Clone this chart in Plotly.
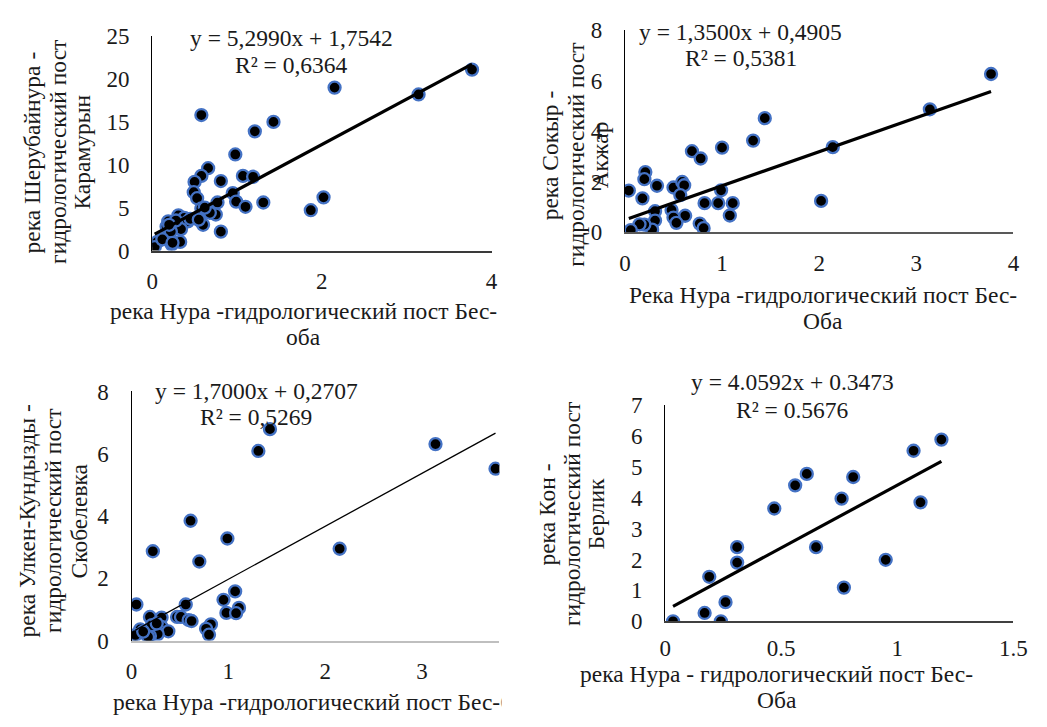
import plotly.graph_objects as go

# ---------------- data ----------------
# Panel A: Нура (Бес-Оба) vs Шерубайнура (Карамурын)
a_x = [3.77, 3.14, 2.15, 0.58, 1.43, 1.21, 0.98, 0.66, 1.07, 1.19, 0.58, 0.81, 0.50,
       0.49, 0.53, 0.95, 0.99, 1.10, 1.31, 2.02, 1.87, 0.77, 0.75, 0.68, 0.58, 0.56,
       0.60, 0.81, 0.31, 0.38, 0.42, 0.34, 0.33, 0.19, 0.17, 0.18, 0.23, 0.06, 0.03,
       0.22, 0.45, 0.62, 0.12, 0.28, 0.24, 0.55, 0.20]
a_y = [21.1, 18.2, 19.0, 15.8, 15.0, 13.9, 11.2, 9.6, 8.7, 8.6, 8.7, 8.1, 8.0,
       6.8, 6.1, 6.7, 5.7, 5.1, 5.6, 6.2, 4.7, 5.6, 4.2, 4.4, 4.9, 3.5,
       3.0, 2.2, 4.1, 3.8, 3.4, 2.5, 1.0, 3.4, 2.8, 1.7, 0.7, 1.0, 0.4,
       2.2, 3.7, 5.0, 1.3, 3.5, 0.9, 3.6, 3.0]

# Panel B: Нура (Бес-Оба) vs Сокыр (Акжар)
b_x = [3.77, 3.14, 2.14, 2.02, 1.44, 1.32, 1.00, 0.69, 0.78, 0.21, 0.20, 0.33, 0.04,
       0.18, 0.50, 0.59, 0.61, 0.57, 0.99, 0.82, 0.96, 1.11, 1.08, 0.62, 0.48, 0.50,
       0.53, 0.31, 0.31, 0.28, 0.20, 0.15, 0.06, 0.77, 0.81]
b_y = [6.27, 4.87, 3.37, 1.24, 4.52, 3.63, 3.35, 3.21, 2.92, 2.38, 2.10, 1.84, 1.65,
       1.34, 1.77, 1.99, 1.86, 1.47, 1.66, 1.15, 1.15, 1.15, 0.66, 0.65, 0.88, 0.58,
       0.37, 0.83, 0.46, 0.10, 0.30, 0.31, 0.08, 0.34, 0.16]

# Panel C: Нура (Бес-Оба) vs Улкен-Кундызды (Скобелевка)
c_x = [3.76, 3.14, 1.43, 1.31, 2.15, 0.61, 0.99, 0.22, 0.70, 1.07, 0.95, 1.11, 0.98,
       1.08, 0.05, 0.56, 0.47, 0.51, 0.59, 0.62, 0.82, 0.77, 0.80, 0.19, 0.31, 0.31,
       0.38, 0.27, 0.19, 0.21, 0.09, 0.04, 0.17, 0.12, 0.26]
c_y = [5.52, 6.31, 6.79, 6.09, 2.95, 3.85, 3.28, 2.87, 2.54, 1.58, 1.31, 1.05, 0.89,
       0.88, 1.16, 1.16, 0.76, 0.76, 0.66, 0.63, 0.52, 0.38, 0.19, 0.76, 0.74, 0.44,
       0.30, 0.21, 0.15, 0.50, 0.36, 0.18, 0.12, 0.29, 0.55]

# Panel D: Нура (Бес-Оба) vs Кон (Берлик)
d_x = [0.034, 0.17, 0.19, 0.24, 0.26, 0.31, 0.31, 0.47, 0.56, 0.61, 0.65, 0.76,
       0.81, 0.77, 0.95, 1.07, 1.10, 1.19]
d_y = [0.0, 0.27, 1.44, 0.0, 0.62, 1.9, 2.4, 3.65, 4.4, 4.77, 2.4, 3.97,
       4.67, 1.09, 1.99, 5.52, 3.85, 5.88]

# linear trend coefficients and R² for each panel
slopes = [5.2990, 1.3500, 1.7000, 4.0592]
intercepts = [1.7542, 0.4905, 0.2707, 0.3473]
r_squared = [0.6364, 0.5381, 0.5269, 0.5676]
decimal_marks = [",", ",", ",", "."]

y_titles = [
    ["река Шерубайнура -", "гидрологический пост", "Карамурын"],
    ["река Сокыр -", "гидрологический пост", "Акжар"],
    ["река Улкен-Кундызды -", "гидрологический пост", "Скобелевка"],
    ["река Кон -", "гидрологический пост", "Берлик"],
]
x_titles = [
    ["река Нура -гидрологический пост Бес-", "оба"],
    ["Река Нура -гидрологический пост Бес-", "Оба"],
    ["река Нура -гидрологический пост Бес-Оба"],
    ["река Нура - гидрологический пост Бес-", "Оба"],
]

# ---------------- layout helpers ----------------
W, H = 1047, 727
FONT = "Times New Roman, Liberation Serif, DejaVu Serif, serif"
FS = 23.5
TICK_FS = 23
INK = "#1a1a1a"


def px(x):
    return x / W


def py(y):
    return 1 - y / H


# plot areas in pixels: (left, right, bottom, top)
areas = [
    (149, 495, 247, 25),
    (631, 1027, 228, 19),
    (128, 503, 651, 393),
    (672, 1027, 631, 407),
]
x_ranges = [[0, 4], [0, 4], [0, 3.8], [0, 1.5]]
y_ranges = [[0, 25], [0, 8], [0, 8], [0, 7]]
x_dticks = [2, 1, 1, 0.5]
y_dticks = [5, 2, 2, 1]
x_line_colors = ["#3a3a3a", "#595959", "#bfbfbf", "#404040"]
x_line_widths = [1.5, 1.5, 2.2, 1.5]
x_label_standoff = [9, 9, 9, 5]
trend_widths = [3.2, 3.2, 1.3, 3.2]

# text line positions in pixels
eq_x = [291, 749, 255, 802]
eq_lines_y = [(27, 55), (21, 48), (392, 419), (383, 412)]
ytitle_lines_x = [(27, 53, 78), (555, 581, 605), (21, 48, 74), (552, 577, 602)]
ytitle_y = [145, 148, 527, 520]
xtitle_x = [303, 833, 107, 786]
xtitle_lines_y = [(310, 337), (293, 320), (715,), (686, 713)]

xs = [a_x, b_x, c_x, d_x]
ys = [a_y, b_y, c_y, d_y]

fig = go.Figure()
annotations = []
layout = {}


def label(text, x, y, angle=0, xanchor="center"):
    annotations.append(dict(
        text=text, x=px(x), y=py(y), xref="paper", yref="paper",
        showarrow=False, xanchor=xanchor, yanchor="middle", textangle=angle,
        font=dict(family=FONT, size=FS, color=INK),
    ))


for i in range(4):
    sfx = "" if i == 0 else str(i + 1)
    xa, ya = "x" + sfx, "y" + sfx
    left, right, bottom, top = areas[i]

    fig.add_trace(go.Scatter(
        x=xs[i], y=ys[i], mode="markers", xaxis=xa, yaxis=ya,
        marker=dict(size=12, color="black", line=dict(color="#4472C4", width=2.3)),
        showlegend=False, hoverinfo="x+y",
    ))

    x0, x1 = min(xs[i]), max(xs[i])
    fig.add_trace(go.Scatter(
        x=[x0, x1], y=[slopes[i] * x0 + intercepts[i], slopes[i] * x1 + intercepts[i]],
        mode="lines", xaxis=xa, yaxis=ya,
        line=dict(color="black", width=trend_widths[i]),
        showlegend=False, hoverinfo="skip",
    ))

    layout["xaxis" + sfx] = dict(
        domain=[px(left), px(right)], range=x_ranges[i], anchor=ya,
        dtick=x_dticks[i], tick0=0, showgrid=False, zeroline=False,
        showline=True, linecolor=x_line_colors[i], linewidth=x_line_widths[i],
        ticks="", ticklabelstandoff=x_label_standoff[i],
        tickfont=dict(family=FONT, size=TICK_FS, color=INK),
    )
    layout["yaxis" + sfx] = dict(
        domain=[py(bottom), py(top)], range=y_ranges[i], anchor=xa,
        dtick=y_dticks[i], tick0=0, showgrid=False, zeroline=False,
        showline=True, linecolor="black", linewidth=1.2,
        ticks="", ticklabelstandoff=17,
        tickfont=dict(family=FONT, size=TICK_FS, color=INK),
    )

    dm = decimal_marks[i]
    eq = "y = {:.4f}x + {:.4f}".format(slopes[i], intercepts[i]).replace(".", dm)
    r2 = "R² = {:.4f}".format(r_squared[i]).replace(".", dm)
    label(eq, eq_x[i], eq_lines_y[i][0])
    label(r2, eq_x[i], eq_lines_y[i][1])

    for line, lx in zip(y_titles[i], ytitle_lines_x[i]):
        label(line, lx, ytitle_y[i], angle=-90)

    for line, ly in zip(x_titles[i], xtitle_lines_y[i]):
        label(line, xtitle_x[i], ly, xanchor="left" if i == 2 else "center")

# white strip trimming the lower-left chart at its right edge
annotations.append(dict(
    text=" ", x=px(505), y=py(727), xref="paper", yref="paper", showarrow=False,
    xanchor="left", yanchor="bottom", width=60, height=40, bgcolor="white",
    font=dict(size=10),
))

fig.update_layout(
    width=W, height=H, margin=dict(l=0, r=0, t=0, b=0),
    paper_bgcolor="white", plot_bgcolor="white",
    annotations=annotations, **layout,
)

# the page body keeps no default margin, so the figure fills the window exactly
fig.write_html("out.html", post_script="document.body.style.margin='0';")
